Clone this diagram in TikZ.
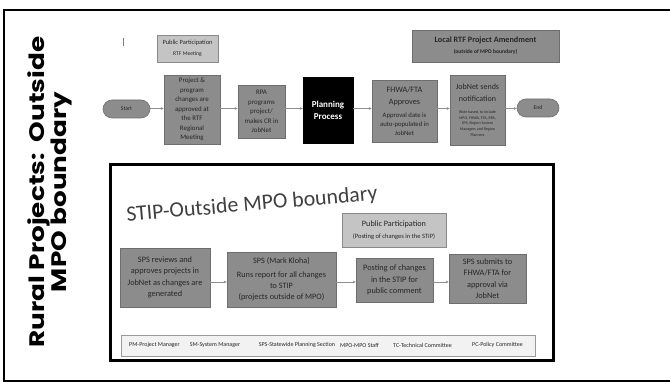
\documentclass[tikz,border=0pt]{standalone}
\usepackage{fontspec}
\setmainfont{Carlito}
\newfontfamily\titlefont{Poppins}
\usetikzlibrary{arrows.meta}
\definecolor{boxfill}{HTML}{8C8C8C}
\definecolor{boxline}{HTML}{6E6E6E}
\definecolor{lightfill}{HTML}{C4C4C4}
\definecolor{lightline}{HTML}{8A8A8A}
\definecolor{txt}{HTML}{262626}
\definecolor{arrowc}{HTML}{8F8F8F}
\definecolor{legfill}{HTML}{F2F2F2}
\definecolor{legline}{HTML}{9A9A9A}
\definecolor{titlec}{HTML}{404040}
\newcommand\fsz[2]{\fontsize{#1}{#2}\selectfont}
\begin{document}
\begin{tikzpicture}[x=1pt,y=-1pt,
  darkbox/.style={draw=boxline, fill=boxfill, align=center, inner sep=0pt, text=txt, line width=0.6pt},
  lightbox/.style={draw=lightline, fill=lightfill, align=center, inner sep=0pt, text=txt, line width=0.6pt},
  pill/.style={darkbox, rounded corners=9pt, font=\fsz{5.8}{7}},
  arr/.style={draw=arrowc, line width=0.6pt, -{Stealth[length=3pt,width=2.8pt]}},
  legitem/.style={font=\fsz{6}{7}, text=txt, inner sep=0pt},
  toptext/.style={font=\fsz{6.9}{9.5}},
  bottext/.style={font=\fsz{8.3}{11.5}},
]
\useasboundingbox (0,0) rectangle (670,382);
% outer frame
\draw[line width=1.6pt] (4,10) rectangle (673,381);
% vertical title
\node[rotate=90, font=\titlefont\bfseries\fsz{21}{16.5}, align=center, inner sep=0pt] (title) at (49.5,192)
  {\scalebox{1.25}[1]{Rural Projects:\ \ Outside}\\\scalebox{1.25}[1]{MPO boundary}};

% cursor mark
\draw[gray, line width=0.9pt] (123,38) -- (123,46);

% top row
\node[lightbox, minimum width=61pt, minimum height=27pt, font=\fsz{5.6}{7}] (pp1) at (187.5,48.5)
  {\fsz{6.4}{8}Public Participation\\[4pt]RTF Meeting};
\node[darkbox, minimum width=147pt, minimum height=32pt, font=\bfseries\fsz{5.6}{7}] (local) at (485.5,46)
  {\fsz{8.2}{10}Local RTF Project Amendment\\[4pt](outside of MPO boundary)};

\node[pill, minimum width=47pt, minimum height=18pt] (start) at (126.5,109) {Start};
\node[darkbox, toptext, minimum width=56pt, minimum height=69pt] (proj) at (192,109.5)
  {Project \&\\program\\changes are\\approved at\\the RTF\\Regional\\Meeting};
\node[darkbox, toptext, minimum width=47pt, minimum height=53pt] (rpa) at (261.5,111.5)
  {RPA\\programs\\project/\\makes CR in\\JobNet};
\node[draw=black, fill=black, text=white, align=center, inner sep=0pt, minimum width=50pt, minimum height=66pt,
  font=\bfseries\fsz{9}{12}] (plan) at (328,110) {Planning\\Process};
\node[darkbox, minimum width=65pt, minimum height=62pt, font=\fsz{6.7}{9}] (fhwa) at (404.5,111)
  {\fsz{8.2}{12}FHWA/FTA\\[3pt]\fsz{8.2}{12}Approves\\[4pt]Approval date is\\auto-populated in\\JobNet};
\node[darkbox, minimum width=55pt, minimum height=70pt, font=\fsz{4}{5.6}] (jobnet) at (477.5,110)
  {\fsz{8}{11}JobNet sends\\[6pt]\fsz{8}{11}notification\\[7pt](Role based, to include\\MPO, FHWA, FTA, RPA,\\SPS, Region System\\Managers and Region\\Planners};
\node[pill, minimum width=42pt, minimum height=18pt] (end) at (538,108) {End};

\coordinate (row1) at (0,108.5);
\draw[arr] (start.east |- row1) -- (proj.west |- row1);
\draw[arr] (proj.east |- row1) -- (rpa.west |- row1);
\draw[arr] (rpa.east |- row1) -- (plan.west |- row1);
\draw[arr] (plan.east |- row1) -- (fhwa.west |- row1);
\draw[arr] (fhwa.east |- row1) -- (jobnet.west |- row1);
\draw[arr] (jobnet.east |- row1) -- (end.west |- row1);

% inner frame
\draw[line width=3pt] (110,165) rectangle (553,361);
\node[rotate=5, font=\fsz{21.8}{26}, text=titlec, inner sep=0pt] (stip) at (252,205) {STIP-Outside MPO boundary};

\node[lightbox, minimum width=104pt, minimum height=34pt, font=\fsz{6.5}{8}] (pp2) at (394,230)
  {\fsz{8.2}{10}Public Participation\\[4pt](Posting of changes in the STIP)};
\node[darkbox, bottext, minimum width=90pt, minimum height=59pt] (sps1) at (165,277.5)
  {SPS reviews and\\approves projects in\\JobNet as changes are\\generated};
\node[darkbox, minimum width=109pt, minimum height=55pt, font=\fsz{8.2}{11}] (sps2) at (281.5,279.5)
  {SPS (Mark Kloha)\\[3pt]Runs report for all changes\\to STIP\\(projects outside of MPO)};
\node[darkbox, bottext, minimum width=77pt, minimum height=44pt] (post) at (394.5,280)
  {Posting of changes\\in the STIP for\\public comment};
\node[darkbox, bottext, minimum width=77pt, minimum height=49pt] (sps3) at (487.5,278.5)
  {SPS submits to\\FHWA/FTA for\\approval via\\JobNet};

\coordinate (row2) at (0,282);
\draw[arr] (sps1.east |- row2) -- (sps2.west |- row2);
\draw[arr] (sps2.east |- row2) -- (post.west |- row2);
\draw[arr] (post.east |- row2) -- (sps3.west |- row2);

% legend
\node[draw=legline, fill=legfill, line width=0.6pt, minimum width=414pt, minimum height=21pt, inner sep=0pt] (legend) at (328,345.5) {};
\node[legitem] (lpm) at (154.5,345) {PM-Project Manager};
\node[legitem] (lsm) at (215,345) {SM-System Manager};
\node[legitem] (lsps) at (297,345) {SPS-Statewide Planning Section};
\node[legitem] (lmpo) at (359.5,345) {MPO-MPO Staff};
\node[legitem] (ltc) at (422.5,345) {TC-Technical Committee};
\node[legitem] (lpc) at (497.5,345) {PC-Policy Committee};
\end{tikzpicture}
\end{document}
